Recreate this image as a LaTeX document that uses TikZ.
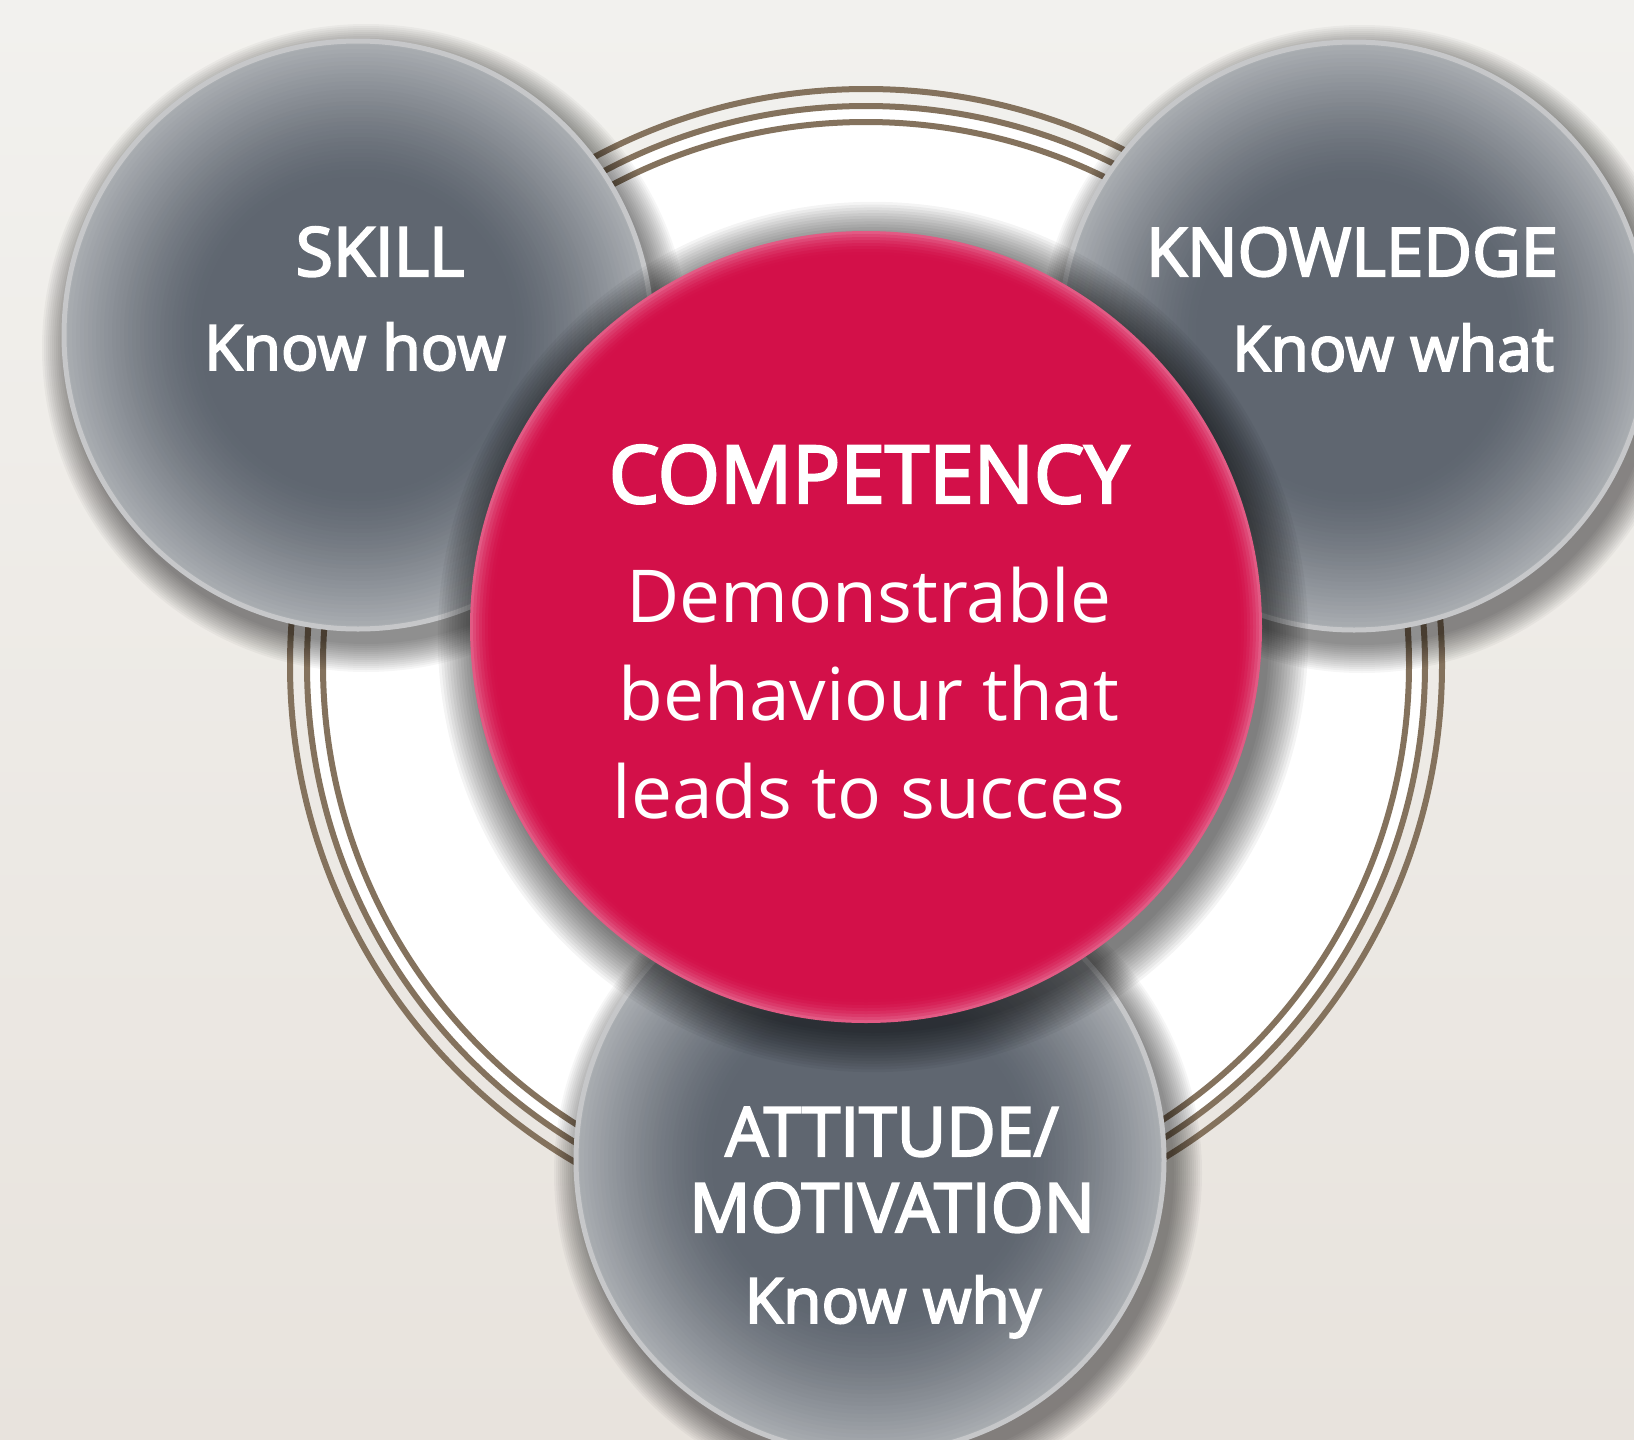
\documentclass[tikz,border=0pt]{standalone}
\usepackage{fontspec}
\setmainfont{Open Sans}
\newfontfamily\headfont[FakeBold=3]{Open Sans}
\definecolor{ringline}{HTML}{84725D}
\definecolor{bgtop}{HTML}{F2F1EE}
\definecolor{bgbot}{HTML}{E8E3DD}
\definecolor{ballrim}{HTML}{C6C7C9}
\definecolor{balldark}{HTML}{5F6670}
\definecolor{balledge}{HTML}{AAAEB2}
\definecolor{pinkmain}{HTML}{D31049}
\definecolor{pinkedge}{HTML}{E25A84}

\begin{document}
\begin{tikzpicture}[x=1pt,y=-1pt,
  ball/.style={circle,inner sep=0pt,minimum size=588pt,draw=ballrim,line width=5pt},
  compball/.style={circle,inner sep=0pt,minimum size=792pt},
  head/.style={text=white,inner sep=0pt,anchor=base,font=\headfont\fontsize{68}{72}\selectfont},
  sub/.style={text=white,inner sep=0pt,anchor=base,font=\headfont\fontsize{62.5}{68}\selectfont},
  body/.style={text=white,inner sep=0pt,anchor=base,font=\fontsize{73}{80}\selectfont}]
\useasboundingbox (0,0) rectangle (1634,1440);
\shade[top color=bgtop,bottom color=bgbot] (0,0) rectangle (1634,1440);
% ring
\coordinate (ringc) at (866,665);
\fill[white] (ringc) circle[radius=560];
\foreach \r in {576,559,543} \draw[ringline,line width=6pt] (ringc) circle[radius=\r];
% grey balls with soft shadow
\foreach \n/\x/\y in {skill/358/335,know/1354/336,att/870/1160} {
  \foreach \k in {1,...,15}
    \fill[black,opacity=.035] (\x+8,\y+13) circle[radius=294+32-2*\k];
  \foreach \k in {0,...,34} {
    \pgfmathtruncatemacro\p{100*(1-\k/34)^1.3}
    \fill[balledge!\p!balldark] (\x,\y) circle[radius=294-4*\k];
  }
  \node[ball] (\n) at (\x,\y) {};
}
% competency ball
\foreach \k in {1,...,15}
  \fill[black,opacity=.042] (873,637) circle[radius=396+42-2.8*\k];
\fill[pinkedge] (866,627) circle[radius=396];
\foreach \k in {1,...,8} {
  \pgfmathtruncatemacro\p{100*(1-\k/8)^2}
  \fill[pinkedge!\p!pinkmain] (866,627) circle[radius=396-3*\k];
}
\node[compball] (comp) at (866,627) {};
\node[head] (skillhead) at (380,276) {SKILL};
\node[sub] (skillsub) at (355,370) {Know how};
\node[head,font=\headfont\fontsize{67}{72}\selectfont] (knowhead) at (1352,276) {KNOWLEDGE};
\node[sub] (knowsub) at (1393,371) {Know what};
\node[head] (atthead) at (892,1156) {ATTITUDE/};
\node[head] (motihead) at (892,1232) {MOTIVATION};
\node[sub] (attsub) at (893,1323) {Know why};
\node[head,font=\headfont\fontsize{80}{86}\selectfont] (comphead) at (869,503) {COMPETENCY};
\foreach \txt [count=\i] in {Demonstrable,behaviour that,leads to succes}
  \node[body] (line\i) at (869,524+98*\i) {\txt};
\end{tikzpicture}
\end{document}
